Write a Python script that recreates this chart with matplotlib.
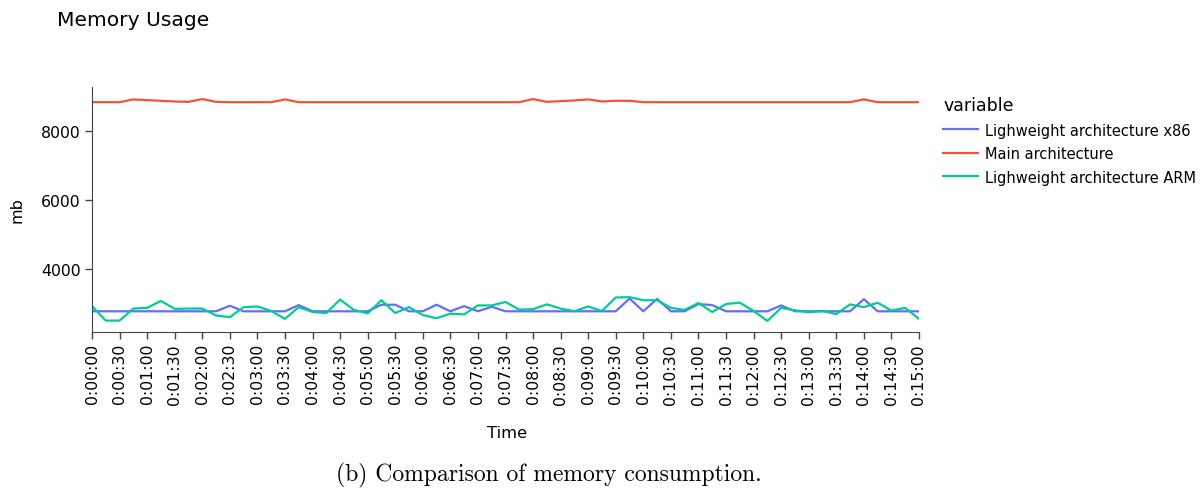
import numpy as np
import matplotlib
matplotlib.use("Agg")
import matplotlib.pyplot as plt

# samples every 15 s over 15 minutes
time_s = np.arange(0, 901, 15)

x86 = [2780, 2780, 2780, 2780, 2780, 2780, 2780, 2780, 2780, 2780,
       2940, 2780, 2780, 2780, 2780, 2960, 2780, 2780, 2780, 2780,
       2780, 2970, 2970, 2780, 2780, 2970, 2780, 2930, 2780, 2910,
       2780, 2780, 2780, 2780, 2780, 2780, 2780, 2780, 2780, 3150,
       2780, 3140, 2780, 2780, 2990, 2960, 2780, 2780, 2780, 2780,
       2950, 2780, 2780, 2780, 2780, 2780, 3130, 2780, 2780, 2780,
       2780]

main = [8840, 8840, 8840, 8920, 8900, 8880, 8860, 8850, 8930, 8850,
        8840, 8840, 8840, 8840, 8920, 8840, 8840, 8840, 8840, 8840,
        8840, 8840, 8840, 8840, 8840, 8840, 8840, 8840, 8840, 8840,
        8840, 8840, 8930, 8850, 8870, 8890, 8920, 8860, 8880, 8880,
        8840, 8840, 8840, 8840, 8840, 8840, 8840, 8840, 8840, 8840,
        8840, 8840, 8840, 8840, 8840, 8840, 8920, 8840, 8840, 8840,
        8840]

arm = [2930, 2510, 2510, 2860, 2880, 3080, 2850, 2860, 2860, 2660,
       2610, 2900, 2920, 2790, 2560, 2900, 2760, 2730, 3120, 2820,
       2720, 3100, 2730, 2900, 2670, 2580, 2710, 2690, 2950, 2950,
       3050, 2830, 2840, 2980, 2860, 2780, 2920, 2790, 3180, 3190,
       3100, 3100, 2880, 2820, 3020, 2760, 2990, 3030, 2790, 2500,
       2880, 2810, 2750, 2790, 2700, 2980, 2900, 3030, 2800, 2880,
       2560]

series = [("Lighweight architecture x86", x86, "#636EFA"),
          ("Main architecture", main, "#EF553B"),
          ("Lighweight architecture ARM", arm, "#00CC96")]

tick_s = np.arange(0, 901, 30)
tick_labels = [f"{t // 3600}:{(t // 60) % 60:02d}:{t % 60:02d}" for t in tick_s]

W, H = 1203, 489
fig = plt.figure(figsize=(W / 100, H / 100), dpi=100)
ax = fig.add_axes([92 / W, 1 - 333 / H, (919 - 92) / W, (333 - 88) / H])

for name, vals, col in series:
    ax.plot(time_s, vals, color=col, lw=1.6, label=name)

ax.set_xlim(0, 900)
ax.set_ylim(2180, 9280)
ax.set_xticks(tick_s)
ax.set_xticklabels(tick_labels, rotation=90)
ax.set_yticks([4000, 6000, 8000])
ax.tick_params(labelsize=11.3, length=5, width=1, color="#444444", pad=3)
for s in ["top", "right"]:
    ax.spines[s].set_visible(False)
for s in ["left", "bottom"]:
    ax.spines[s].set_color("#444444")

fig.text(17 / W, 1 - 210 / H, "mb", rotation=90, ha="center", va="center", fontsize=11.5)
fig.text(507 / W, 1 - 434 / H, "Time", ha="center", va="center", fontsize=11.8)
fig.text(57 / W, 1 - 20 / H, "Memory Usage", ha="left", va="center", fontsize=14.6)

leg = fig.legend(loc="upper left", bbox_to_anchor=(930 / W, 1 - 84 / H), frameon=False,
                 title="variable", fontsize=10.5, title_fontsize=12.5, alignment="left",
                 handlelength=2.4, handletextpad=0.5, labelspacing=0.58)

fig.text(549 / W, 1 - 475 / H, "(b) Comparison of memory consumption.", ha="center",
         va="center", fontsize=17, family="cmr10")

fig.savefig("out.png", dpi=100)
